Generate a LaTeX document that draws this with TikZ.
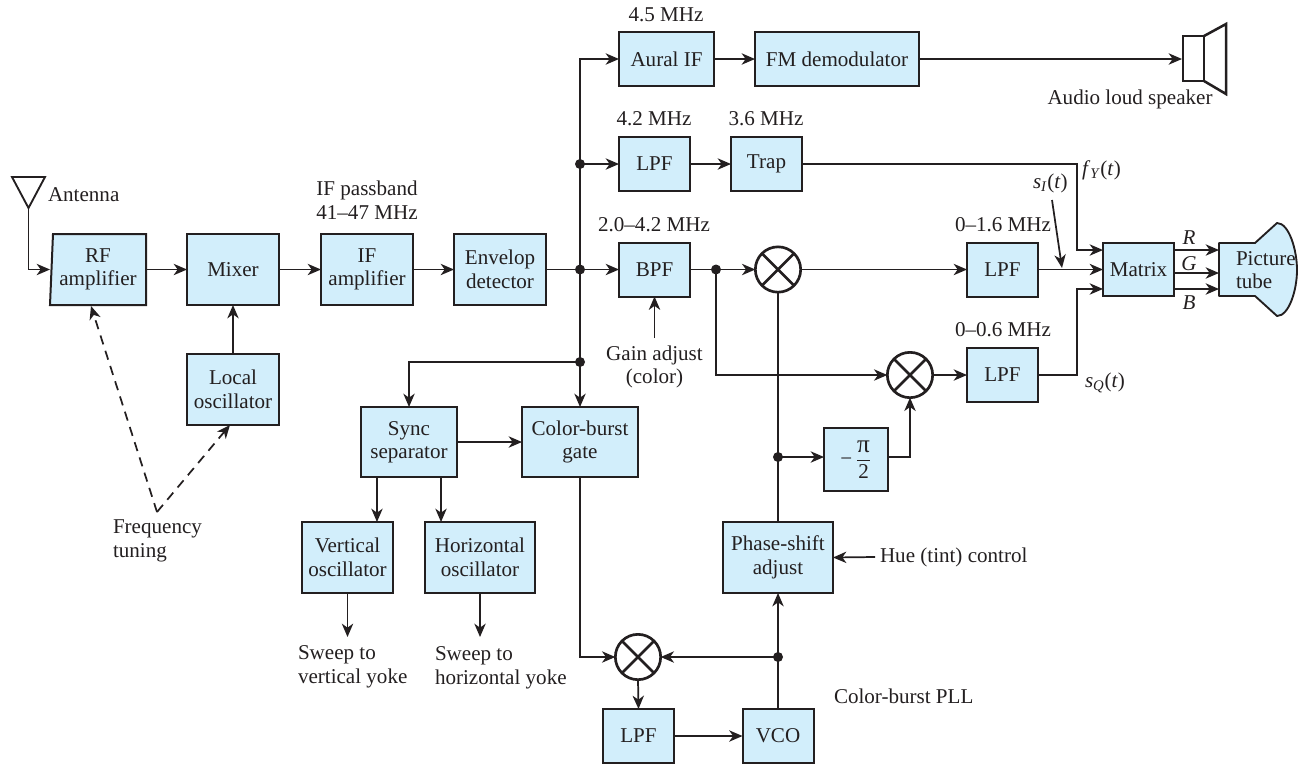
\documentclass[tikz,border=0pt]{standalone}
\usepackage{fontspec}
\setmainfont{Liberation Serif}
\usetikzlibrary{arrows.meta}
\definecolor{ink}{HTML}{231F20}
\definecolor{blockfill}{HTML}{D2EEFB}
\newcommand{\itm}[1]{\textit{#1}}
\tikzset{
  x=0.75pt,y=-0.75pt,
  every node/.style={text=ink,font=\fontsize{15.8}{17.6}\selectfont,inner sep=0pt,outer sep=0pt},
  wh/.style 2 args={minimum width=#1*0.75pt,minimum height=#2*0.75pt},
  blockbox/.style={draw=ink,fill=blockfill,line width=1.5pt,align=center},
  lbl/.style={align=center},
  lbll/.style={align=left,anchor=west},
  wire/.style={draw=ink,line width=1.3pt},
  arr/.style={wire,-{Stealth[length=10pt,width=8.5pt,inset=3pt]}},
  darr/.style={arr,dash pattern=on 7pt off 5pt},
  junction/.style={circle,fill=ink,minimum size=7.5pt},
  mult/.style={circle,draw=ink,line width=2pt,minimum size=34pt,
    path picture={\draw[ink,line width=2pt] (path picture bounding box.center)+(45:20pt)--+(225:20pt)
      (path picture bounding box.center)+(135:20pt)--+(315:20pt);}},
  heavy/.style={draw=ink,line width=1.9pt,line join=miter},
}
\begin{document}
\begin{tikzpicture}
\useasboundingbox (0,0) rectangle (1298,764);
% front end
\draw[wire,line width=1.4pt] (12,177)--(45,177)--(28.5,208)--cycle;
\coordinate (anttip) at (28.5,208);
\node[lbll] (antlab) at (48,195) {Antenna};
\draw[blockbox] (53,234)--(146,234)--(146,305)--(50,305)--cycle;
\node[wh={96}{71},align=center] (rf) at (98,269.5) {RF\\amplifier};
\node[blockbox,wh={92}{71}] (mixer) at (233,269.5) {Mixer};
\node[blockbox,wh={92}{71}] (lo) at (233,389.5) {Local\\oscillator};
\node[blockbox,wh={92}{71}] (ifa) at (367,269.5) {IF\\amplifier};
\node[blockbox,wh={92}{71}] (env) at (500,269.5) {Envelop\\detector};
\node[lbl] (iflab) at (367,200) {IF passband\\41–47 MHz};
\node[lbll,align=left] (ftlab) at (113,541) {Frequency\\tuning};
\coordinate (ftv) at (157,512);
\coordinate (rftip) at (91,306);
\coordinate (lotip) at (230,425);
% upper branches
\node[blockbox,wh={95}{54}] (aural) at (666.5,59) {Aural IF};
\node[blockbox,wh={164}{54}] (fm) at (837,59) {FM demodulator};
\node[blockbox,wh={71}{54}] (lpfa) at (654.5,164) {LPF};
\node[blockbox,wh={71}{54}] (trap) at (766.5,164) {Trap};
\node[blockbox,wh={71}{54}] (bpf) at (654.5,269.5) {BPF};
\node[blockbox,wh={71}{54}] (lpfi) at (1002.5,269.5) {LPF};
\node[blockbox,wh={71}{54}] (lpfq) at (1002.5,375) {LPF};
\node[blockbox,wh={71}{53}] (matrix) at (1138.5,269.5) {Matrix};
\node[lbl] (l45) at (666,15) {4.5 MHz};
\node[lbl] (l42) at (654,119) {4.2 MHz};
\node[lbl] (l36) at (766,119) {3.6 MHz};
\node[lbl] (l24) at (654,225) {2.0–4.2 MHz};
\node[lbl] (l16) at (1003,225) {0–1.6 MHz};
\node[lbl] (l06) at (1003,330) {0–0.6 MHz};
\node[lbl] (gain) at (654.5,367) {Gain adjust\\(color)};
\coordinate (gainup) at (654.5,338);
% speaker
\draw[heavy] (1183,36) rectangle (1204,81);
\draw[heavy] (1204,36)--(1226,24)--(1226,94)--(1204,81);
\coordinate (spk) at (1182,59);
\node[lbl] (audio) at (1130,99) {Audio loud speaker};
% picture tube
\draw[blockbox,line width=1.4pt,line join=round] (1219,243)--(1255,243)--(1277,223)
  .. controls (1289,223) and (1297,250) .. (1297,270)
  .. controls (1297,290) and (1289,316) .. (1277,316)
  --(1255,296)--(1219,296)--cycle;
\node[lbll] (tube) at (1236,270) {Picture\\tube};
\coordinate (tR) at (1219,250);
\coordinate (tG) at (1219,273);
\coordinate (tB) at (1219,289);
% multipliers
\node[mult] (ma) at (778,269.5) {};
\node[mult] (mb) at (910,375) {};
\node[mult] (mc) at (638,657) {};
\node[blockbox,wh={64}{63}] (shift) at (856,459.5) {$\mbox{−}\,\displaystyle\frac{\mbox{\fontsize{19}{19}\selectfont π}}{\mbox{2}}$};
\node[blockbox,wh={110}{71}] (phase) at (778,557.5) {Phase-shift\\adjust};
\node[blockbox,wh={71}{54}] (lpfb) at (638.5,736) {LPF};
\node[blockbox,wh={71}{54}] (vco) at (778,736) {VCO};
\node[lbll] (hue) at (880,557) {Hue (tint) control};
\coordinate (huefrom) at (875,557);
\node[lbll] (pll) at (834,696) {Color-burst PLL};
% sync chain
\node[blockbox,wh={96}{70}] (sync) at (409,442) {Sync\\separator};
\node[blockbox,wh={116}{70}] (gate) at (580,442) {Color-burst\\gate};
\node[blockbox,wh={91}{71}] (vosc) at (347.5,557.5) {Vertical\\oscillator};
\node[blockbox,wh={110}{71}] (hosc) at (480,557.5) {Horizontal\\oscillator};
\coordinate (vout) at (347.5,637);
\coordinate (hout) at (480,637);
\node[lbll,align=left] (vlab) at (298,667) {Sweep to\\vertical yoke};
\node[lbll,align=left] (hlab) at (435,668) {Sweep to\\horizontal yoke};
% signal labels
\node[lbll] (fy) at (1082,170) {\itm{f}\textsubscript{\itm{Y}}(\itm{t})};
\node[lbll] (si) at (1033,183) {\itm{s}\textsubscript{\itm{I}}(\itm{t})};
\node[lbll] (sq) at (1085,383) {\itm{s}\textsubscript{\itm{Q}}(\itm{t})};
\node[lbl] (rl) at (1189,238) {\itm{R}};
\node[lbl] (gl) at (1189,264) {\itm{G}};
\node[lbl] (bl) at (1189,303) {\itm{B}};
\coordinate (sifrom) at (1052,200);
\coordinate (sito) at (1062,268);
\coordinate (ybend) at (1077,250);
\coordinate (qbend) at (1077,289);
% junctions
\node[junction] (j1) at (580,164) {};
\node[junction] (j2) at (580,269.5) {};
\node[junction] (j3) at (580,362) {};
\node[junction] (j4) at (716,269.5) {};
\node[junction] (j5) at (778,457) {};
\node[junction] (j6) at (778,657) {};
% connectors: front end
\draw[arr] (anttip)|-(rf.west);
\draw[arr] (rf.east)--(mixer.west);
\draw[arr] (mixer.east)--(ifa.west);
\draw[arr] (ifa.east)--(env.west);
\draw[arr] (lo.north)--(mixer.south);
\draw[darr] (ftv)--(rftip);
\draw[darr] (ftv)--(lotip);
\draw[wire] (env.east)--(j2.center);
% connectors: bus
\draw[wire] (j3.center)--(j2.center)--(j1.center);
\draw[arr] (j1.center)|-(aural.west);
\draw[arr] (j1.center)--(lpfa.west);
\draw[arr] (j2.center)--(bpf.west);
\draw[arr] (j3.center)--(gate.north);
\draw[arr] (j3.center)-|(sync.north);
\draw[arr] (aural.east)--(fm.west);
\draw[arr] (fm.east)--(spk);
\draw[arr] (lpfa.east)--(trap.west);
\draw[arr] (trap.east)-|(ybend)--([yshift=14.6pt]matrix.west);
\draw[arr] (gainup)--(bpf.south);
\draw[wire] (bpf.east)--(j4.center);
\draw[arr] (j4.center)--(ma.west);
\draw[arr] (j4.center)|-(mb.west);
\draw[arr] (ma.east)--(lpfi.west);
\draw[arr] (mb.east)--(lpfq.west);
\draw[arr] (lpfi.east)--(matrix.west);
\draw[arr] (lpfq.east)-|(qbend)--([yshift=-14.6pt]matrix.west);
\draw[arr] (sifrom)--(sito);
\draw[arr] ([yshift=14.6pt]matrix.east)--(tR);
\draw[arr] ([yshift=-2.6pt]matrix.east)--(tG);
\draw[arr] ([yshift=-14.6pt]matrix.east)--(tB);
% connectors: chroma
\draw[wire,line width=1.5pt] (ma.south)--(j5.center)--(phase.north);
\draw[arr] (j5.center)--([yshift=1.875pt]shift.west);
\draw[arr] ([yshift=1.875pt]shift.east)-|(mb.south);
\draw[arr] (huefrom)--(phase.east);
\draw[arr] (j6.center)--(phase.south);
\draw[wire,line width=1.5pt] (vco.north)--(j6.center);
\draw[arr] (j6.center)--(mc.east);
\draw[arr] (gate.south)|-(mc.west);
\draw[arr] (mc.south)--(lpfb.north);
\draw[arr] (lpfb.east)--(vco.west);
% connectors: sync
\draw[arr] (sync.east)--(gate.west);
\draw[arr] ([xshift=-24pt]sync.south)--([xshift=22.1pt]vosc.north);
\draw[arr] ([xshift=24pt]sync.south)--([xshift=-29.25pt]hosc.north);
\draw[arr] (vosc.south)--(vout);
\draw[arr] (hosc.south)--(hout);
\end{tikzpicture}
\end{document}
